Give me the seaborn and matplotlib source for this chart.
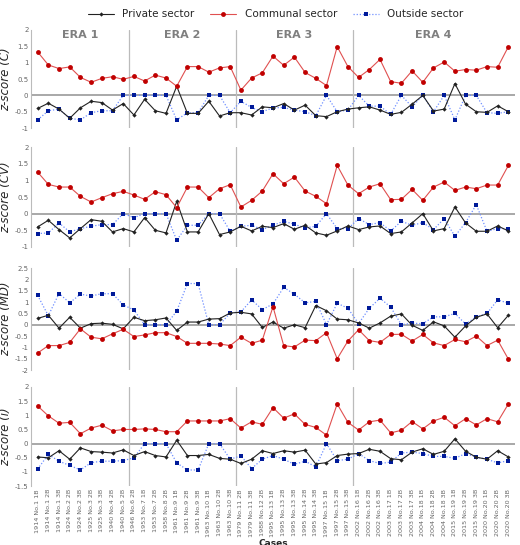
import numpy as np
import pandas as pd
import matplotlib
matplotlib.use("Agg")
import matplotlib.pyplot as plt
import seaborn as sns

cases = ["1914 No.1 1B","1914 No.1 2B","1914 No.1 3B","1924 No.2 2B","1924 No.2 3B","1925 No.3 2B","1925 No.3 3B","1940 No.4 2B","1940 No.5 2B",
         "1946 No.6 2B","1953 No.7 1B","1953 No.7 2B","1958 No.8 2B","1961 No.9 1B","1961 No.9 2B","1961 No.9 3B","1963 No.10 1B","1963 No.10 2B","1963 No.10 3B",
         "1979 No.11 2B","1979 No.11 3B","1988 No.12 2B","1995 No.13 1B","1995 No.13 2B","1995 No.13 3B","1995 No.14 2B","1995 No.14 3B","1997 No.15 1B","1997 No.15 2B","1997 No.15 3B",
         "2002 No.16 1B","2002 No.16 2B","2002 No.16 3B","2003 No.17 1B","2003 No.17 2B","2003 No.17 3B","2004 No.18 1B","2004 No.18 2B","2004 No.18 3B","2015 No.19 1B","2015 No.19 2B","2015 No.19 3B","2020 No.20 1B","2020 No.20 2B","2020 No.20 3B"]
eras = ["ERA 1", "ERA 2", "ERA 3", "ERA 4"]
era_sizes = [9, 10, 11, 15]

c_private = [-0.4,-0.24,-0.42,-0.7,-0.38,-0.18,-0.22,-0.45,-0.25, -0.6,-0.12,-0.47,-0.55,0.28,-0.55,-0.55,-0.18,-0.63,-0.53, -0.53,-0.6,-0.35,-0.38,-0.25,-0.45,-0.3,-0.62,-0.65,-0.5,-0.42, -0.38,-0.35,-0.45,-0.58,-0.52,-0.27,0,-0.48,-0.42,0.36,-0.27,-0.5,-0.52,-0.32,-0.5]
c_communal = [1.33,0.93,0.82,0.87,0.55,0.40,0.52,0.57,0.49, 0.58,0.44,0.62,0.53,0.28,0.88,0.88,0.71,0.84,0.88, 0.16,0.53,0.69,1.2,0.92,1.17,0.70,0.52,0.30,1.49,0.88, 0.55,0.79,1.1,0.42,0.37,0.75,0.40,0.84,1.02,0.74,0.79,0.77,0.88,0.86,1.49]
c_outside = [-0.75,-0.47,-0.42,-0.7,-0.75,-0.53,-0.47,-0.47,0, 0,0,0,0,-0.75,-0.53,-0.53,0,0,-0.53, -0.18,-0.37,-0.5,-0.38,-0.37,-0.45,-0.5,-0.62,0,-0.5,-0.45, 0,-0.33,-0.33,-0.58,0,-0.35,0,-0.5,0,-0.75,0,0,-0.53,-0.55,-0.5]

cv_private = [-0.4,-0.2,-0.48,-0.73,-0.45,-0.18,-0.23,-0.55,-0.45, -0.55,-0.12,-0.5,-0.58,0.37,-0.55,-0.55,0,-0.63,-0.55, -0.38,-0.52,-0.38,-0.42,-0.3,-0.47,-0.35,-0.58,-0.65,-0.52,-0.37, -0.48,-0.4,-0.37,-0.6,-0.55,-0.28,0,-0.52,-0.45,0.2,-0.28,-0.53,-0.53,-0.37,-0.52]
cv_communal = [1.25,0.88,0.8,0.8,0.52,0.35,0.48,0.6,0.67, 0.56,0.43,0.66,0.57,0.18,0.8,0.8,0.48,0.75,0.87, 0.2,0.4,0.68,1.2,0.9,1.1,0.68,0.52,0.3,1.45,0.86, 0.6,0.8,0.9,0.42,0.43,0.73,0.4,0.8,0.95,0.7,0.8,0.75,0.86,0.86,1.45]
cv_outside = [-0.6,-0.58,-0.28,-0.55,-0.45,-0.38,-0.33,-0.33,0, -0.12,0,0,0,-0.8,-0.35,-0.35,0,0,-0.53, -0.38,-0.35,-0.48,-0.35,-0.23,-0.32,-0.43,-0.38,0,-0.45,-0.45, -0.15,-0.33,-0.27,-0.52,-0.23,-0.35,-0.27,-0.48,-0.15,-0.68,-0.27,0.27,-0.53,-0.45,-0.45]

md_private = [0.28,0.42,-0.15,0.33,-0.15,0.05,0.07,0.02,-0.18, 0.33,0.18,0.22,0.3,-0.25,0.12,0.12,0.25,0.27,0.52, 0.55,0.48,-0.12,0.12,-0.15,0,-0.13,0.85,0.62,0.25,0.22, 0.08,-0.15,0.08,0.38,0.48,-0.02,-0.25,0.13,-0.05,-0.55,-0.05,0.33,0.48,-0.13,0.42]
md_communal = [-1.25,-0.92,-0.92,-0.78,-0.18,-0.55,-0.62,-0.4,-0.2, -0.52,-0.45,-0.35,-0.35,-0.52,-0.82,-0.82,-0.82,-0.85,-0.92, -0.55,-0.82,-0.68,0.8,-0.92,-0.98,-0.68,-0.7,-0.35,-1.5,-0.72, -0.22,-0.7,-0.78,-0.43,-0.42,-0.72,-0.43,-0.8,-0.92,-0.65,-0.75,-0.5,-0.92,-0.68,-1.52]
md_outside = [1.3,0.4,1.38,0.97,1.35,1.27,1.37,1.37,0.88, 0.65,0,0,0,0.6,1.82,1.82,0,0,0.52, 0.57,1.1,0.67,0.92,1.65,1.35,0.97,1.03,0,0.95,0.73, 0.05,0.73,1.17,0.78,0,0.07,0.05,0.35,0.35,0.5,0.03,0.35,0.5,1.1,0.95]

i_private = [-0.47,-0.5,-0.25,-0.55,-0.15,-0.28,-0.3,-0.33,-0.22, -0.42,-0.28,-0.42,-0.47,0.12,-0.42,-0.42,-0.38,-0.52,-0.55, -0.7,-0.55,-0.25,-0.35,-0.25,-0.3,-0.23,-0.72,-0.67,-0.42,-0.37, -0.35,-0.2,-0.27,-0.53,-0.57,-0.3,-0.18,-0.38,-0.27,0.17,-0.27,-0.48,-0.55,-0.25,-0.47]
i_communal = [1.33,0.98,0.72,0.75,0.35,0.55,0.65,0.45,0.5, 0.5,0.52,0.5,0.42,0.42,0.8,0.8,0.8,0.8,0.88, 0.55,0.77,0.68,1.27,0.9,1.05,0.68,0.57,0.3,1.4,0.75, 0.48,0.77,0.83,0.38,0.47,0.78,0.52,0.8,0.93,0.63,0.88,0.66,0.88,0.77,1.4]
i_outside = [-0.9,-0.38,-0.62,-0.77,-0.93,-0.67,-0.62,-0.62,-0.6, -0.5,0,0,0,-0.68,-0.93,-0.93,0,0,-0.55, -0.43,-0.88,-0.55,-0.42,-0.55,-0.73,-0.62,-0.82,0,-0.6,-0.55, -0.35,-0.6,-0.7,-0.65,-0.33,-0.3,-0.35,-0.45,-0.45,-0.52,-0.35,-0.48,-0.55,-0.68,-0.6]

panels = [
    ("z-score (C)", c_private, c_communal, c_outside, (-1, 2), np.arange(-1, 2.01, 0.5)),
    ("z-score (CV)", cv_private, cv_communal, cv_outside, (-1, 2), np.arange(-1, 2.01, 0.5)),
    ("z-score (MD)", md_private, md_communal, md_outside, (-2, 2.5), np.arange(-2, 2.51, 0.5)),
    ("z-score (i)", i_private, i_communal, i_outside, (-1.5, 2), np.arange(-1.5, 2.01, 0.5)),
]

sns.set_theme(style="white")
plt.rcParams['font.family'] = ['DejaVu Sans']

fig = plt.figure(figsize=(5.2, 5.45), dpi=100)
tops = [0.945, 0.73, 0.508, 0.29]
hs = [0.18, 0.183, 0.187, 0.182]
x = np.arange(len(cases))
bounds = np.cumsum(era_sizes)[:-1] - 0.5
starts = np.concatenate([[0], np.cumsum(era_sizes)])

for k, (lab, pv, cm, ou, yl, yt) in enumerate(panels):
    ax = fig.add_axes([0.06, tops[k] - hs[k], 0.93, hs[k]])
    ax.axhline(0, color="#999999", lw=1.2, zorder=1)
    for b in bounds:
        ax.axvline(b, color="#bbbbbb", lw=0.9, zorder=1)
    sns.lineplot(x=x, y=ou, ax=ax, color="#001a99", marker="s", markersize=3.5, lw=0.9,
                 linestyle=(0, (1, 1.5)), markeredgewidth=0, label="Outside sector", legend=False)
    ax.lines[-1].set_color("#6f8fff"); ax.lines[-1].set_markerfacecolor("#001a99")
    sns.lineplot(x=x, y=pv, ax=ax, color="#222222", marker="D", markersize=2.2, lw=0.8,
                 markeredgewidth=0, label="Private sector", legend=False)
    sns.lineplot(x=x, y=cm, ax=ax, color="#e05050", marker="o", markersize=3.5, lw=0.8,
                 markeredgewidth=0, label="Communal sector", legend=False)
    ax.lines[-1].set_markerfacecolor("#c00000")
    ax.set_xlim(-0.6, len(cases) - 0.4)
    ax.set_ylim(*yl)
    ax.set_yticks(yt)
    ax.set_yticklabels(["%g" % v for v in yt], fontsize=5, color="#666666")
    ax.set_ylabel(lab, fontsize=8.5, style="italic", labelpad=2)
    ax.tick_params(axis="y", length=0, pad=2)
    for s in ["top", "right", "bottom"]:
        ax.spines[s].set_visible(False)
    ax.spines["left"].set_color("#bbbbbb")
    ax.spines["left"].set_linewidth(0.8)
    if k == 0:
        for e, name in enumerate(eras):
            ax.text((starts[e] + starts[e + 1] - 1) / 2, 1.85, name, ha="center", va="center",
                    fontsize=8, fontweight="bold", color="#7f7f7f")
        handles, labels = ax.get_legend_handles_labels()
        order = [labels.index(n) for n in ["Private sector", "Communal sector", "Outside sector"]]
        fig.legend([handles[i] for i in order], [labels[i] for i in order], loc="upper center",
                   bbox_to_anchor=(0.53, 1.0), ncol=3, frameon=False, fontsize=7.5,
                   handlelength=2.5, columnspacing=1.5)
    if k == 3:
        ax.set_xticks(x)
        ax.set_xticklabels(cases, rotation=90, fontsize=4.6, color="#666666")
        ax.tick_params(axis="x", length=0, pad=2)
        ax.set_xlabel("Cases", fontsize=6.5, fontweight="bold", labelpad=2)
    else:
        ax.set_xticks([])

fig.savefig("out.png", dpi=100)
